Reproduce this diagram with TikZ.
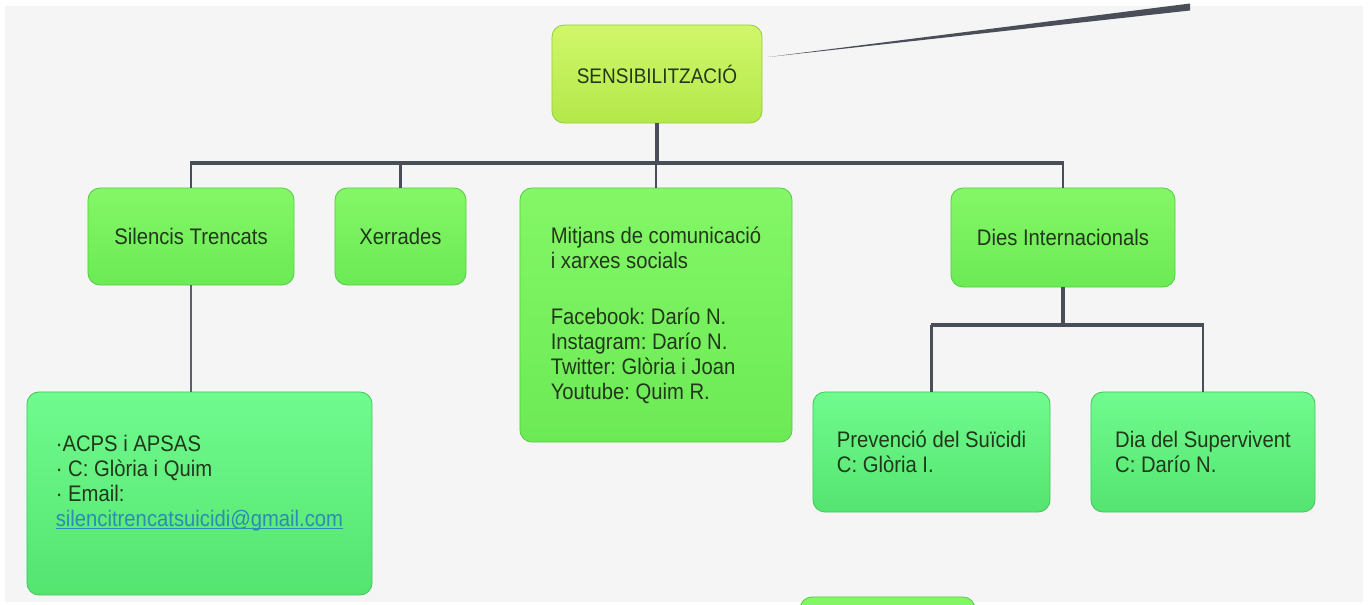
\documentclass[tikz,border=0pt]{standalone}
\usepackage{fontspec}
\setmainfont[FakeStretch=0.9]{Liberation Sans}
\usetikzlibrary{calc}

\definecolor{bggray}{RGB}{245,245,245}
\definecolor{wire}{RGB}{74,78,88}
\definecolor{txt}{RGB}{34,56,26}
\definecolor{limetop}{RGB}{208,247,106}
\definecolor{limebot}{RGB}{180,232,74}
\definecolor{limeedge}{RGB}{150,206,60}
\definecolor{greentop}{RGB}{132,247,102}
\definecolor{greenbot}{RGB}{108,234,86}
\definecolor{greenedge}{RGB}{88,204,70}
\definecolor{minttop}{RGB}{112,251,142}
\definecolor{mintbot}{RGB}{84,228,112}
\definecolor{mintedge}{RGB}{70,198,96}
\definecolor{maillink}{RGB}{44,140,180}

% Link unterstrichen, knapp unter der Grundlinie
\newcommand{\maillink}[1]{{\color{maillink}\setbox0\hbox{#1}%
	\rlap{\rule[-1.6pt]{\wd0}{0.6pt}}\box0}}

\tikzset{
	box/.style={draw, rounded corners=0.3cm, line width=0.6pt, text=txt,
		font=\fontsize{16}{17.8}\selectfont\frenchspacing, inner sep=0pt, align=left},
	limebox/.style={box, draw=limeedge, top color=limetop, bottom color=limebot},
	greenbox/.style={box, draw=greenedge, top color=greentop, bottom color=greenbot},
	mintbox/.style={box, draw=mintedge, top color=minttop, bottom color=mintbot},
	bar/.style={draw=wire, line width=3.5pt},
	drop/.style={draw=wire, line width=1.5pt},
	thinlink/.style={draw=wire!90, line width=1.2pt}
}

\begin{document}
\begin{tikzpicture}[x=0.025cm, y=-0.025cm]
	% Hintergrund
	\useasboundingbox (0,0) rectangle (1370,605);
	\fill[white] (0,0) rectangle (1370,605);
	\fill[bggray] (5,6) rectangle (1363,602);
	% Hauptknoten
	\node[limebox, minimum width=5.25cm, minimum height=2.45cm,
		font=\fontsize{15}{17.8}\selectfont] (sens) at (657,74) {SENSIBILITZACIÓ};
	% erste Ebene
	\node[greenbox, minimum width=5.15cm, minimum height=2.425cm] (silencis)
		at (191,236.5) {Silencis Trencats};
	\node[greenbox, minimum width=3.275cm, minimum height=2.425cm] (xerrades)
		at (400.5,236.5) {Xerrades};
	\node[greenbox, minimum width=6.8cm, minimum height=6.35cm] (mitjans)
		at (656,315) {Mitjans de comunicació\\i xarxes socials\\[0.775cm]Facebook:
		Darío N.\\Instagram: Darío N.\\Twitter: Glòria i Joan\\Youtube: Quim R.};
	\node[greenbox, minimum width=5.6cm, minimum height=2.475cm] (dies)
		at (1063,237.5) {Dies Internacionals};
	% zweite Ebene
	\node[mintbox, minimum width=8.625cm, minimum height=5.075cm] (acps)
		at (199.5,493.5) {·ACPS i APSAS\\· C: Glòria i Quim\\· Email:\\
		\maillink{silencitrencatsuicidi@gmail.com}\\\mbox{}};
	\node[mintbox, minimum width=5.925cm, minimum height=3cm] (prevencio)
		at (931.5,452) {Prevenció del Suïcidi\\C: Glòria I.};
	\node[mintbox, minimum width=5.6cm, minimum height=3cm] (dia)
		at (1203,452) {Dia del Supervivent\\C: Darío N.};
	% naechster Knoten, abgeschnitten
	\node[greenbox, minimum width=4.375cm, minimum height=2cm] (next)
		at (887.5,637) {};
	% Verbindungen
	\coordinate (hub) at (657,163);
	\coordinate (subhub) at (1063,325);
	\coordinate (far) at (1190,7);
	\fill[wire] ($(sens.east)+(6,-17)$) -- ($(far)+(0,-3.5)$) -- ($(far)+(0,3.5)$)
		-- cycle;
	\draw[bar] (sens.south) -- (sens.south |- hub);
	\draw[bar] ($(silencis.north |- hub)+(-1,0)$) -- ($(dies.north |- hub)+(1,0)$);
	\foreach \n in {silencis,xerrades,mitjans,dies}
		\draw[drop] (\n.north |- hub) -- (\n.north);
	\draw[thinlink] (silencis.south) -- (silencis.south |- acps.north);
	\draw[bar] (dies.south) -- (dies.south |- subhub);
	\draw[bar] ($(prevencio.north |- subhub)+(-1,0)$) -- ($(dia.north |- subhub)+(1,0)$);
	\foreach \n in {prevencio,dia}
		\draw[drop] (\n.north |- subhub) -- (\n.north);
\end{tikzpicture}
\end{document}
